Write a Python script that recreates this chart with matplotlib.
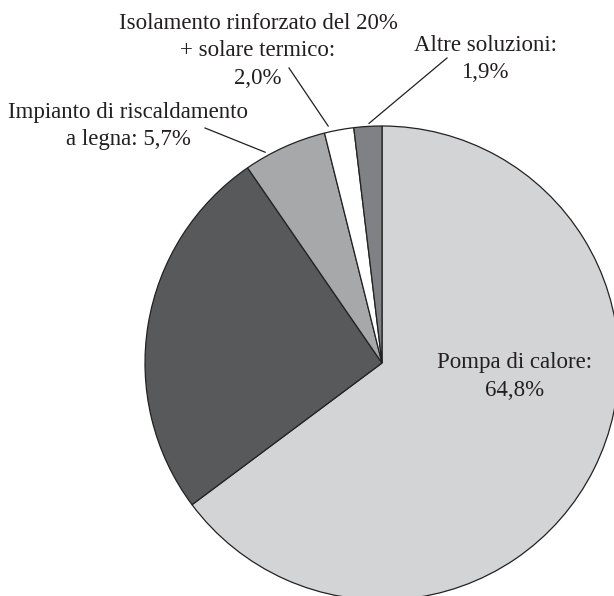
import numpy as np
import matplotlib
matplotlib.use("Agg")
import matplotlib.pyplot as plt

# Data
categories = ["Pompa di calore", "Altro (non etichettato)", "Impianto di riscaldamento a legna",
              "Isolamento rinforzato del 20% + solare termico", "Altre soluzioni"]
values = [64.8, 25.6, 5.7, 2.0, 1.9]
labels = ["Pompa di calore:\n64,8%", None, "Impianto di riscaldamento\na legna: 5,7%",
          "Isolamento rinforzato del 20%\n+ solare termico:\n2,0%", "Altre soluzioni:\n1,9%"]
colors = ["#d3d4d6", "#58595b", "#a7a8aa", "#ffffff", "#808184"]

W, H = 614, 596
fig = plt.figure(figsize=(W / 100, H / 100), dpi=100)
ax = fig.add_axes([0, 0, 1, 1])

cx, cy, R = 382, H - 363, 237
ax.pie(values, colors=colors, startangle=90, counterclock=False,
       center=(cx, cy), radius=R, frame=True,
       wedgeprops=dict(edgecolor="#222222", linewidth=0.9))
ax.set_xlim(0, W)
ax.set_ylim(0, H)
ax.set_aspect("equal")
ax.axis("off")

font = dict(family="Liberation Serif", fontsize=16.5, color="#231f20",
            ha="center", va="center", linespacing=1.38)

def Y(y):
    return H - y

# Labels (image coords of text centre)
ax.text(515, Y(376.5), labels[0], **font)
ax.text(128, Y(126), labels[2], **font)
ax.text(258, Y(51), labels[3], **font)
ax.text(485, Y(59), labels[4], **font)

# Leader lines: start near text, end at wedge edge (angle deg, radius)
leaders = [((205, 128), 119.0, 241), ((289, 68), 102.8, 243), ((447, 58), 93.1, 240)]
for (sx, sy), ang, r in leaders:
    ex = cx + r * np.cos(np.radians(ang))
    ey = cy + r * np.sin(np.radians(ang))
    ax.plot([sx, ex], [Y(sy), ey], color="#231f20", linewidth=0.9)

fig.savefig("out.png", dpi=100)
